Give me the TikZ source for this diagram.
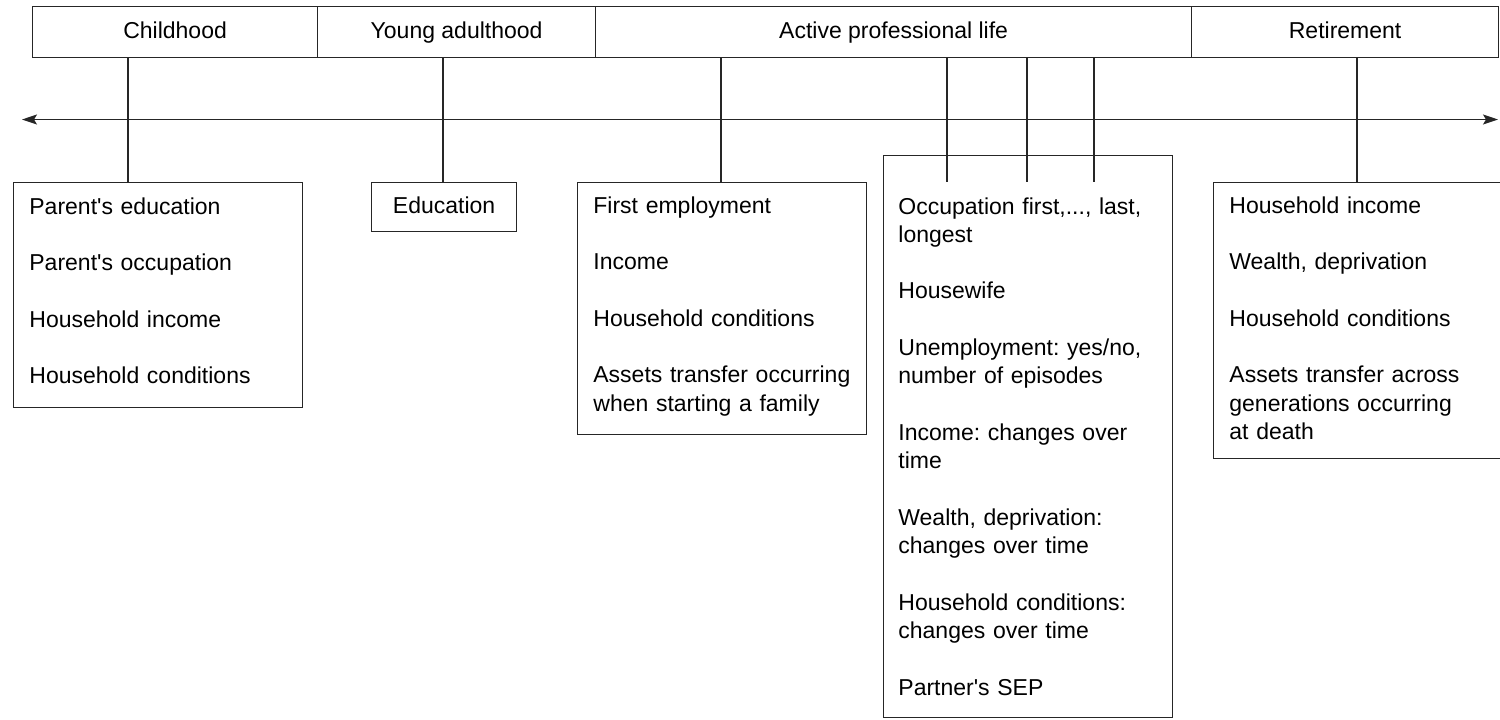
\documentclass[tikz,border=0pt]{standalone}
\usepackage{fontspec}
\setmainfont{Liberation Sans}
\usetikzlibrary{arrows.meta}
\frenchspacing
\newcommand{\txtfont}{\fontsize{11.5pt}{14.15pt}\selectfont}
\newcommand{\gap}{\\[14.15pt]}
\begin{document}
\begin{tikzpicture}[x=0.5pt,y=-0.5pt,
  ln/.style={line width=0.6pt, draw=black!85},
  cell/.style={ln, minimum height=25.5pt, inner sep=0pt, anchor=north west,
    font=\txtfont, text height=8.5pt, text depth=2.5pt},
  box/.style={ln, inner sep=0pt, anchor=north west},
  txt/.style={inner sep=0pt, anchor=base west, align=left, text width=150pt, font=\txtfont}]
\useasboundingbox (0,0) rectangle (1500,719);
% top bar
\node[cell, minimum width=142.5pt] (c1) at (32,6) {Childhood};
\node[cell, minimum width=139pt] (c2) at (317,6) {Young adulthood};
\node[cell, minimum width=298pt] (c3) at (595,6) {Active professional life};
\node[cell, minimum width=153.5pt] (c4) at (1191,6) {Retirement};
% time arrow
\coordinate (aL) at (22,119.5);
\coordinate (aR) at (1498,119.5);
\draw[ln, {Stealth[length=7.5pt,width=5pt,inset=1.5pt]}-{Stealth[length=7.5pt,width=5pt,inset=1.5pt]}] (aL) -- (aR);
% boxes
\node[box, minimum width=144.5pt, minimum height=112.5pt] (b1) at (13,182) {};
\node[box, minimum width=72.5pt, minimum height=24.5pt, anchor=north west,
  font=\txtfont, text height=8.5pt, text depth=2.5pt] (b2) at (371,182) {Education};
\node[box, minimum width=144.5pt, minimum height=126pt] (b3) at (577,182) {};
\node[box, minimum width=144.5pt, minimum height=281pt] (b4) at (883,155) {};
\node[box, minimum width=146pt, minimum height=138pt] (b5) at (1213,182) {};
% texts
\node[txt] (t1) at (29,214) {Parent\textquotesingle s education\gap Parent\textquotesingle s occupation\gap Household income\gap Household conditions};
\node[txt] (t3) at (593,213) {First employment\gap Income\gap Household conditions\gap Assets transfer occurring\\ when starting a family};
\node[txt] (t4) at (898,214) {Occupation first,..., last,\\ longest\gap Housewife\gap Unemployment: yes/no,\\ number of episodes\gap Income: changes over\\ time\gap Wealth, deprivation:\\ changes over time\gap Household conditions:\\ changes over time\gap Partner\textquotesingle s SEP};
\node[txt] (t5) at (1229,213) {Household income\gap Wealth, deprivation\gap Household conditions\gap Assets transfer across\\ generations occurring\\ at death};
% connectors
\coordinate (p1) at (128,57);
\coordinate (p2) at (443,57);
\coordinate (p3) at (721,57);
\coordinate (p5) at (1357,57);
\draw[ln] (p1) -- (p1 |- b1.north);
\draw[ln] (p2) -- (p2 |- b2.north);
\draw[ln] (p3) -- (p3 |- b3.north);
\draw[ln] (p5) -- (p5 |- b5.north);
\coordinate (q1) at (947,57);
\coordinate (q2) at (1027,57);
\coordinate (q3) at (1094,57);
\coordinate (r1) at (947,182);
\coordinate (r2) at (1027,182);
\coordinate (r3) at (1094,182);
\draw[ln] (q1) -- (r1);
\draw[ln] (q2) -- (r2);
\draw[ln] (q3) -- (r3);
\end{tikzpicture}
\end{document}
